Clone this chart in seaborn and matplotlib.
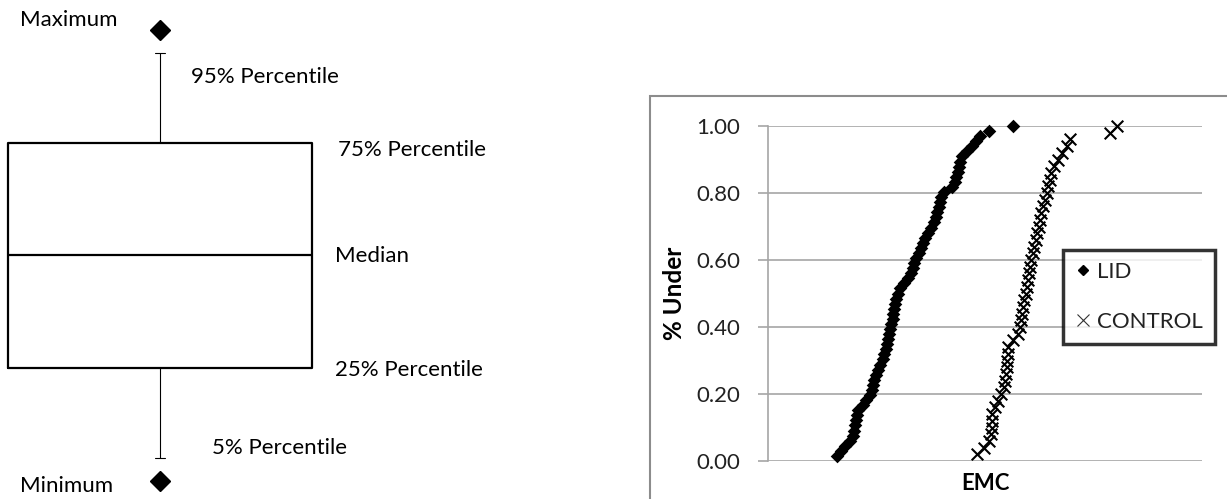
import numpy as np
import pandas as pd
import matplotlib
matplotlib.use("Agg")
import matplotlib.pyplot as plt
import seaborn as sns
from matplotlib.lines import Line2D
from matplotlib.patches import Rectangle

# -------------------------------
# Data
# -------------------------------
# schematic box plot (percent scale)
stat_names = ["Minimum", "5% Percentile", "25% Percentile", "Median",
              "75% Percentile", "95% Percentile", "Maximum"]
stat_values = [0, 5, 25, 50, 75, 95, 100]

# cumulative distribution, LID
lid_x = [16.0, 16.8, 17.8, 18.9, 19.6, 19.9, 20.0, 20.2, 20.4, 20.8,
         21.8, 22.6, 23.4, 23.9, 24.2, 24.5, 24.9, 25.3, 25.8, 26.4,
         26.8, 27.2, 27.5, 27.7, 27.9, 28.1, 28.4, 28.7, 28.9, 29.1,
         29.3, 29.6, 29.9, 30.4, 31.4, 32.3, 32.9, 33.4, 33.7, 34.2,
         34.8, 35.3, 35.8, 36.2, 36.8, 37.6, 38.3, 38.7, 39.0, 39.3,
         39.6, 39.9, 40.5, 42.5, 43.0, 43.4, 43.8, 44.0, 44.3, 44.6,
         45.8, 47.0, 48.0, 48.8, 51.0, 56.5]
lid_y = [0.015, 0.030, 0.045, 0.061, 0.076, 0.091, 0.106, 0.121, 0.136, 0.152,
         0.167, 0.182, 0.197, 0.212, 0.227, 0.242, 0.258, 0.273, 0.288, 0.303,
         0.318, 0.333, 0.348, 0.364, 0.379, 0.394, 0.409, 0.424, 0.439, 0.455,
         0.470, 0.485, 0.500, 0.515, 0.530, 0.545, 0.561, 0.576, 0.591, 0.606,
         0.621, 0.636, 0.652, 0.667, 0.682, 0.697, 0.712, 0.727, 0.742, 0.758,
         0.773, 0.788, 0.803, 0.818, 0.833, 0.848, 0.864, 0.879, 0.894, 0.909,
         0.924, 0.939, 0.955, 0.970, 0.985, 1.000]

# cumulative distribution, CONTROL
ctrl_x = [48.2, 49.8, 51.0, 51.4, 51.5, 51.6, 51.7, 52.3, 53.1, 53.8,
          54.3, 54.6, 54.8, 55.0, 55.1, 55.2, 55.4, 56.4, 57.5, 58.1,
          58.4, 58.6, 58.8, 59.1, 59.4, 59.6, 59.9, 60.1, 60.4, 60.7,
          61.0, 61.3, 61.7, 62.0, 62.4, 62.7, 63.0, 63.4, 63.8, 64.2,
          64.6, 64.9, 65.1, 65.8, 66.9, 67.7, 68.8, 69.7, 78.8, 80.4]
ctrl_y = [0.02, 0.04, 0.06, 0.08, 0.10, 0.12, 0.14, 0.16, 0.18, 0.20,
          0.22, 0.24, 0.26, 0.28, 0.30, 0.32, 0.34, 0.36, 0.38, 0.40,
          0.42, 0.44, 0.46, 0.48, 0.50, 0.52, 0.54, 0.56, 0.58, 0.60,
          0.62, 0.64, 0.66, 0.68, 0.70, 0.72, 0.74, 0.76, 0.78, 0.80,
          0.82, 0.84, 0.86, 0.88, 0.90, 0.92, 0.94, 0.96, 0.98, 1.00]

y_ticks = [0.0, 0.2, 0.4, 0.6, 0.8, 1.0]

# -------------------------------
# Style
# -------------------------------
sns.set_theme(style="white")
plt.rcParams["font.family"] = ["Lato", "DejaVu Sans"]
W, H = 1227, 499
fig = plt.figure(figsize=(W / 100, H / 100), dpi=100)

# -------------------------------
# Left: schematic box plot
# -------------------------------
ax1 = fig.add_axes([0, 0, 620 / W, 1])
stats = [{
    "whislo": stat_values[1], "q1": stat_values[2], "med": stat_values[3],
    "q3": stat_values[4], "whishi": stat_values[5],
    "fliers": [stat_values[0], stat_values[6]],
}]
ax1.bxp(stats, positions=[160], widths=304, capwidths=[10],
         boxprops=dict(color="black", linewidth=1.6),
         medianprops=dict(color="black", linewidth=1.6),
         whiskerprops=dict(color="black", linewidth=0.8),
         capprops=dict(color="black", linewidth=0.8),
         flierprops=dict(marker="D", markerfacecolor="black",
                         markeredgecolor="black", markersize=10.5))
ax1.set_xlim(0, 620)
ax1.set_ylim(-3.99, 106.65)
ax1.axis("off")

label_pos = {
    "Maximum": (20, 102.2),
    "95% Percentile": (191, 89.6),
    "75% Percentile": (338, 73.4),
    "Median": (335, 49.9),
    "25% Percentile": (335, 24.6),
    "5% Percentile": (212, 7.3),
    "Minimum": (20, -1.1),
}
for name in stat_names:
    x, y = label_pos[name]
    ax1.text(x, y, name, fontsize=16, color="black", va="center", ha="left")

# -------------------------------
# Right: cumulative distribution chart
# -------------------------------
fig.patches.append(Rectangle((650 / W, -0.1), 0.6, 0.1 + 1 - 96 / H,
                             transform=fig.transFigure, fill=False,
                             edgecolor="#8c8c8c", linewidth=1.5))

ax2 = fig.add_axes([768 / W, (H - 461) / H, 434 / W, 335 / H])
lid = pd.DataFrame({"EMC": lid_x, "Under": lid_y})
ctrl = pd.DataFrame({"EMC": ctrl_x, "Under": ctrl_y})
sns.scatterplot(data=lid, x="EMC", y="Under", ax=ax2, marker="D", s=48,
                color="black", edgecolor="black", linewidth=0, clip_on=False,
                zorder=3)
sns.scatterplot(data=ctrl, x="EMC", y="Under", ax=ax2, marker="x", s=70,
                color="black", linewidth=1.5, clip_on=False, zorder=3)

ax2.set_xlim(0, 100)
ax2.set_ylim(0, 1)
ax2.set_yticks(y_ticks)
ax2.set_yticklabels([f"{v:.2f}" for v in y_ticks])
ax2.set_xticks([])
ax2.grid(axis="y", color="#a6a6a6", linewidth=1.2)
ax2.tick_params(axis="y", length=7, width=1.2, color="#a6a6a6", pad=13,
                labelsize=16, labelcolor="#222222", left=True)
for side in ["top", "right", "bottom"]:
    ax2.spines[side].set_visible(False)
ax2.spines["left"].set_color("#a6a6a6")
ax2.spines["left"].set_linewidth(1.2)

ax2.set_ylabel("% Under", fontsize=17.5, fontweight="bold", color="black")
ax2.set_xlabel("EMC", fontsize=16, fontweight="bold", color="black")
ax2.yaxis.set_label_coords(-0.19, 0.5)
ax2.xaxis.set_label_coords(0.5, -0.035)

handles = [
    Line2D([], [], marker="D", ls="", color="black", markersize=5),
    Line2D([], [], marker="x", ls="", color="#333333", markersize=9,
           markeredgewidth=0.8),
]
leg = ax2.legend(handles, ["LID", "CONTROL"], loc="upper left",
                 bbox_to_anchor=(1063 / W, 1 - 250 / H),
                 bbox_transform=fig.transFigure, frameon=True, fancybox=False,
                 edgecolor="black", borderaxespad=0, handlelength=0.7,
                 handletextpad=0.3, labelspacing=1.35, borderpad=0.55,
                 fontsize=16)
leg.get_frame().set_linewidth(2.5)
for t in leg.get_texts():
    t.set_color("#222222")

plt.savefig("out.png", dpi=100)
plt.close()
